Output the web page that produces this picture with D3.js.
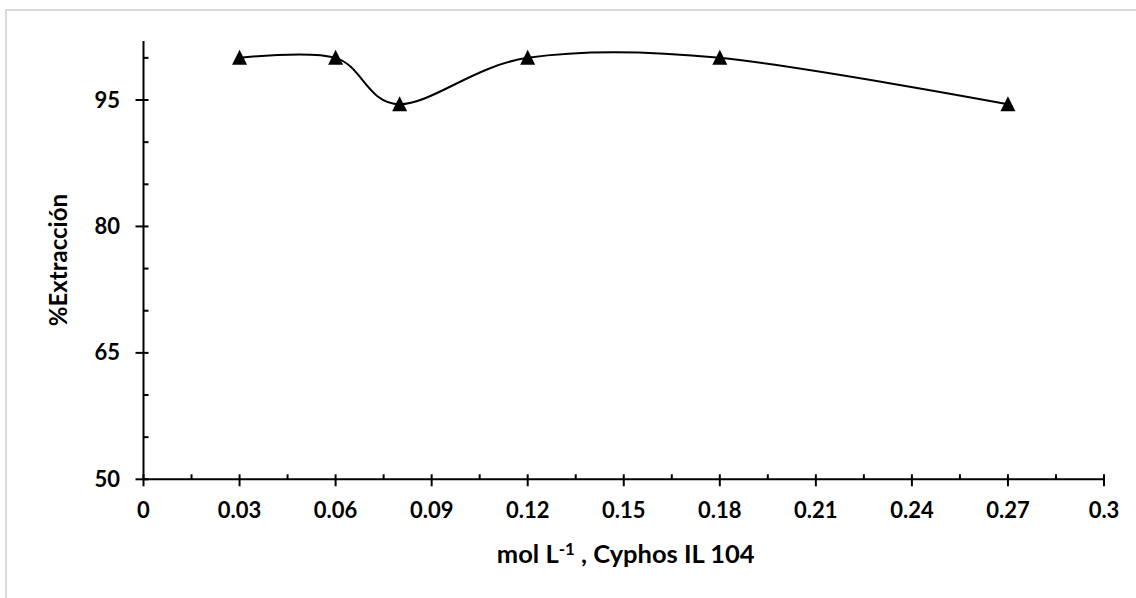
<!DOCTYPE html>
<html>
<head>
<meta charset="utf-8">
<script src="https://cdn.jsdelivr.net/npm/d3@7"></script>
<style>
  body { margin: 0; background: #fff; }
  svg text { font-family: Lato, "Open Sans", sans-serif; font-weight: bold; fill: #000; }
</style>
</head>
<body>
<svg id="chart" width="1136" height="598"></svg>
<script>
// data
const concentration = [0.03, 0.06, 0.08, 0.12, 0.18, 0.27]
const extraction = [100, 100, 94.5, 100, 100, 94.5]

const xMajor = [0, 0.03, 0.06, 0.09, 0.12, 0.15, 0.18, 0.21, 0.24, 0.27, 0.3]
const xTickLabels = ['0', '0.03', '0.06', '0.09', '0.12', '0.15', '0.18', '0.21', '0.24', '0.27', '0.3']
const yMajor = [50, 65, 80, 95]
const yMinor = [55, 60, 70, 75, 85, 90, 100]

const svg = d3.select('#chart')

// light grey frame around the chart area
svg.append('rect')
  .attr('x', 6).attr('y', 10)
  .attr('width', 1140).attr('height', 620)
  .attr('fill', 'none')
  .attr('stroke', '#d9d9d9')
  .attr('stroke-width', 2)

const x = d3.scaleLinear().domain([0, 0.3]).range([143.5, 1104])
const y = d3.scaleLinear().domain([50, 102]).range([479.3, 41])

const xMinor = d3.range(0, 10).map(i => 0.015 + i * 0.03)

// x axis: line, major ticks crossing, minor ticks inside
const gx = svg.append('g').attr('class', 'x-axis')
gx.append('line')
  .attr('x1', x(0)).attr('x2', x(0.3))
  .attr('y1', y(50)).attr('y2', y(50))
  .attr('stroke', '#000').attr('stroke-width', 2)
gx.selectAll('.major').data(xMajor).join('line')
  .attr('class', 'major')
  .attr('x1', d => x(d)).attr('x2', d => x(d))
  .attr('y1', y(50) - 5).attr('y2', y(50) + 7)
  .attr('stroke', '#000').attr('stroke-width', 2)
gx.selectAll('.minor').data(xMinor).join('line')
  .attr('class', 'minor')
  .attr('x1', d => x(d)).attr('x2', d => x(d))
  .attr('y1', y(50) - 5).attr('y2', y(50))
  .attr('stroke', '#000').attr('stroke-width', 2)
gx.selectAll('text').data(xMajor).join('text')
  .attr('x', d => x(d))
  .attr('y', y(50) + 39)
  .attr('text-anchor', 'middle')
  .attr('font-size', 22)
  .text((d, i) => xTickLabels[i])

// y axis
const gy = svg.append('g').attr('class', 'y-axis')
gy.append('line')
  .attr('x1', x(0)).attr('x2', x(0))
  .attr('y1', y(50) + 1).attr('y2', y(102))
  .attr('stroke', '#000').attr('stroke-width', 2)
gy.selectAll('.major').data(yMajor).join('line')
  .attr('class', 'major')
  .attr('x1', x(0) - 8).attr('x2', x(0) + 5)
  .attr('y1', d => y(d)).attr('y2', d => y(d))
  .attr('stroke', '#000').attr('stroke-width', 2)
gy.selectAll('.minor').data(yMinor).join('line')
  .attr('class', 'minor')
  .attr('x1', x(0)).attr('x2', x(0) + 5)
  .attr('y1', d => y(d)).attr('y2', d => y(d))
  .attr('stroke', '#000').attr('stroke-width', 2)
gy.selectAll('text').data(yMajor).join('text')
  .attr('x', 120)
  .attr('y', d => y(d) + 7.5)
  .attr('text-anchor', 'end')
  .attr('font-size', 22)
  .text(d => d)

// axis titles
svg.append('text')
  .attr('transform', `translate(67, ${(y(50) + y(102)) / 2}) rotate(-90)`)
  .attr('text-anchor', 'middle')
  .attr('font-size', 24)
  .text('%Extracción')

const xt = svg.append('text')
  .attr('x', (x(0) + x(0.3)) / 2 + 2)
  .attr('y', 563)
  .attr('text-anchor', 'middle')
  .attr('font-size', 25.5)
xt.append('tspan').text('mol L')
xt.append('tspan').attr('font-size', 17).attr('dy', -8).text('-1')
xt.append('tspan').attr('dy', 8).text(' , Cyphos IL 104')

// smoothed line
const pts = concentration.map((c, i) => [x(c), y(extraction[i])])
svg.append('path')
  .attr('d', d3.line().curve(d3.curveCardinal.tension(0))(pts))
  .attr('fill', 'none')
  .attr('stroke', '#000')
  .attr('stroke-width', 2)

// triangle markers
svg.selectAll('.marker').data(pts).join('path')
  .attr('class', 'marker')
  .attr('d', d => `M${d[0]},${d[1] - 8}L${d[0] + 7.5},${d[1] + 7}L${d[0] - 7.5},${d[1] + 7}Z`)
  .attr('fill', '#000')
</script>
</body>
</html>
